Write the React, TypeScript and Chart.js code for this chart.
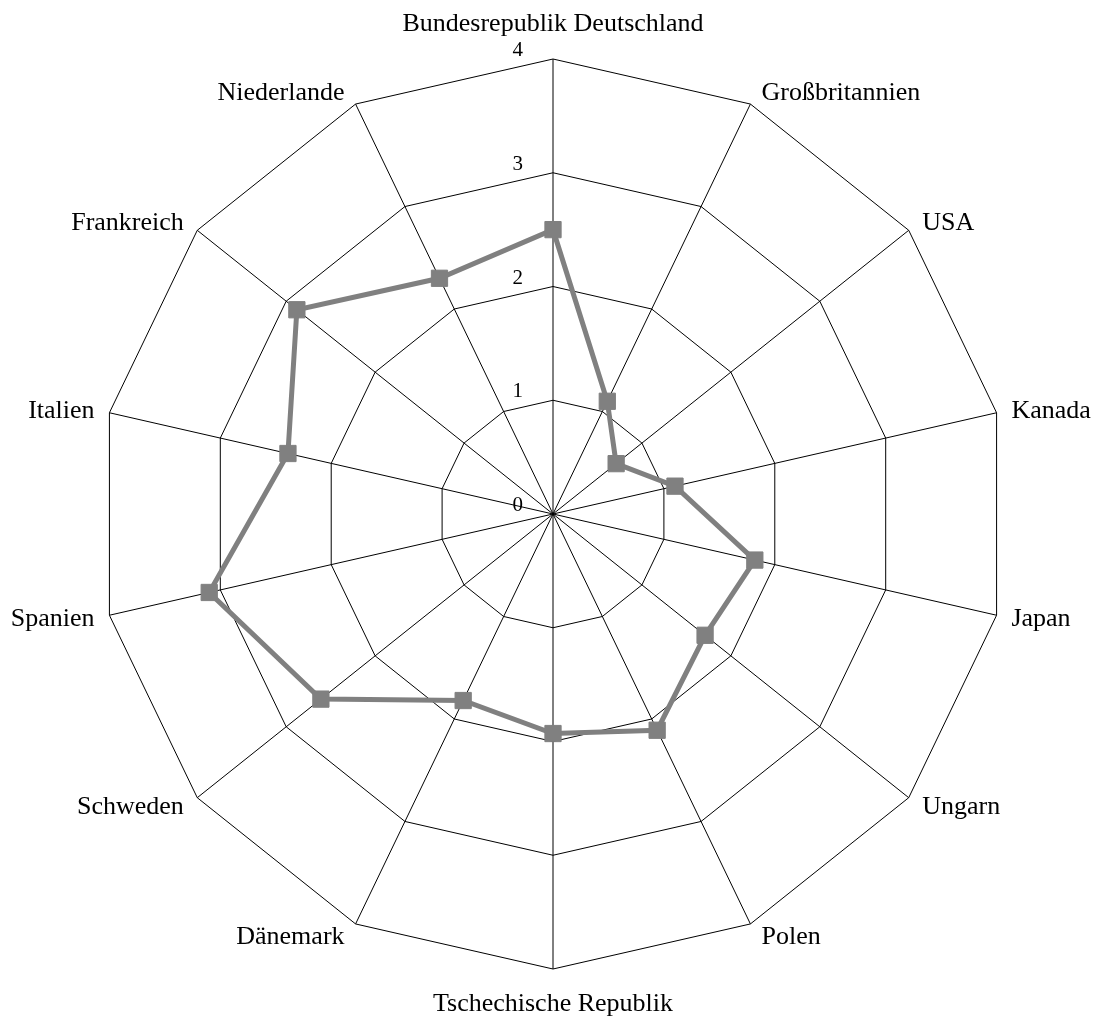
import React, { useEffect, useRef } from "react";
import { Chart, registerables } from "chart.js";

Chart.register(...registerables);

const categories: string[] = [
  "Bundesrepublik Deutschland",
  "Großbritannien",
  "USA",
  "Kanada",
  "Japan",
  "Ungarn",
  "Polen",
  "Tschechische Republik",
  "Dänemark",
  "Schweden",
  "Spanien",
  "Italien",
  "Frankreich",
  "Niederlande",
];

const seriesValues: number[] = [
  2.5, 1.1, 0.71, 1.1, 1.82, 1.71, 2.11, 1.93, 1.82, 2.61, 3.1, 2.39, 2.88, 2.3,
];

const tickValues: number[] = [0, 1, 2, 3, 4];

const FONT = "'Liberation Serif', 'Times New Roman', serif";

const labelPlugin = {
  id: "customLabels",
  afterDraw(chart: any) {
    const scale = chart.scales.r;
    const ctx = chart.ctx;
    ctx.save();
    ctx.fillStyle = "#000000";
    // tick labels
    ctx.font = `21px ${FONT}`;
    ctx.textAlign = "right";
    ctx.textBaseline = "alphabetic";
    tickValues.forEach((v) => {
      const d = scale.getDistanceFromCenterForValue(v);
      ctx.fillText(String(v), scale.xCenter - 30, scale.yCenter - d - 3);
    });
    // category labels
    ctx.font = `26px ${FONT}`;
    const n = categories.length;
    const outer = scale.getDistanceFromCenterForValue(scale.max);
    categories.forEach((label, i) => {
      const p = scale.getPointPosition(i, outer);
      const a = (i / n) * Math.PI * 2;
      const s = Math.sin(a);
      const c = Math.cos(a);
      if (Math.abs(s) < 1e-6) {
        ctx.textAlign = "center";
        if (c > 0) ctx.fillText(label, p.x, p.y - 28);
        else ctx.fillText(label, p.x, p.y + 42);
      } else {
        const gap = 8 + 7 * Math.abs(s);
        ctx.textAlign = s > 0 ? "left" : "right";
        const x = s > 0 ? p.x + gap : p.x - gap;
        ctx.fillText(label, x, p.y + 8 - 13 * c);
      }
    });
    ctx.restore();
  },
};

export default function App() {
  const canvasRef = useRef<HTMLCanvasElement | null>(null);

  useEffect(() => {
    if (!canvasRef.current) return;
    const chart = new Chart(canvasRef.current, {
      type: "radar",
      data: {
        labels: categories,
        datasets: [
          {
            data: seriesValues,
            borderColor: "#808080",
            backgroundColor: "rgba(0,0,0,0)",
            borderWidth: 5,
            fill: false,
            pointStyle: "rect",
            pointRadius: 11.5,
            pointHoverRadius: 11.5,
            pointBackgroundColor: "#808080",
            pointBorderColor: "#808080",
            pointBorderWidth: 1,
            clip: false,
          } as any,
        ],
      },
      plugins: [labelPlugin],
      options: {
        responsive: false,
        animation: false,
        layout: { padding: 0 },
        plugins: {
          legend: { display: false },
          tooltip: { enabled: false },
        },
        scales: {
          r: {
            min: 0,
            max: 4,
            ticks: { stepSize: 1, display: false },
            grid: { color: "#000000", lineWidth: 1, circular: false },
            angleLines: { display: true, color: "#000000", lineWidth: 1 },
            pointLabels: { display: false },
            afterFit: (scale: any) => {
              scale.xCenter = 553;
              scale.yCenter = 514;
              scale.drawingArea = 455;
            },
          } as any,
        },
      },
    });
    return () => chart.destroy();
  }, []);

  return (
    <div style={{ position: "absolute", left: 0, top: 0, width: 1094, height: 1019, background: "#ffffff" }}>
      <canvas ref={canvasRef} width={1094} height={1019} />
    </div>
  );
}
